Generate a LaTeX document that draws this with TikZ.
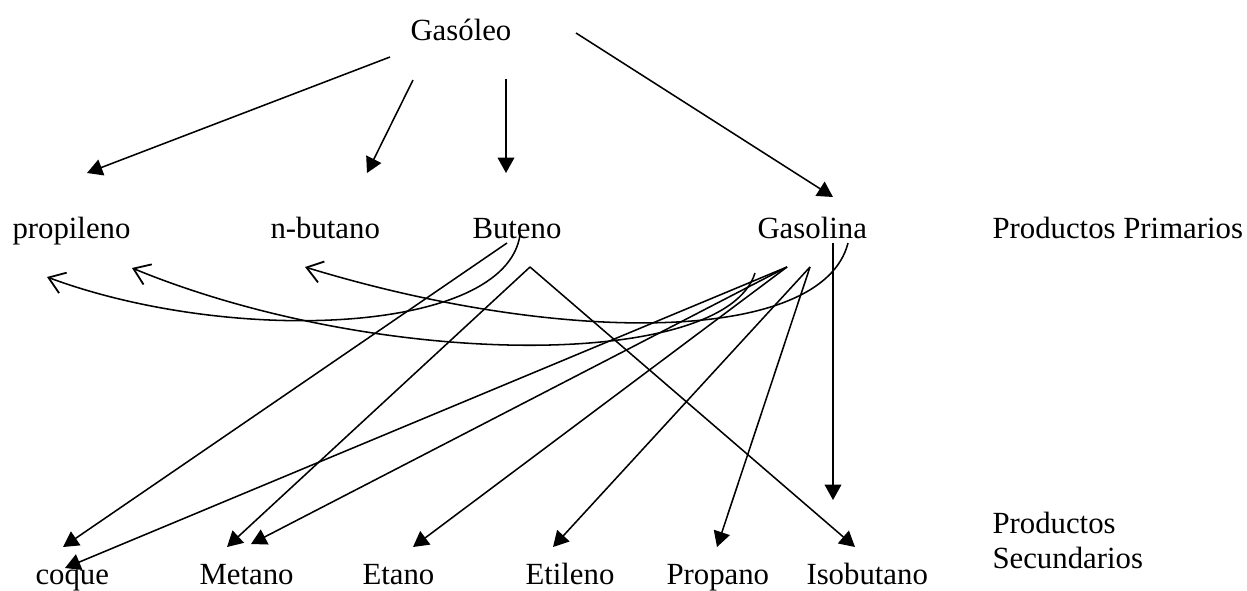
\documentclass[tikz,border=0pt]{standalone}
\usepackage{fontspec}
\setmainfont{Liberation Serif}
\usepackage{tikz}
\usetikzlibrary{arrows.meta}
\tikzset{
  lbl/.style={anchor=base west,inner sep=0pt,font=\fontsize{12}{13.6}\selectfont},
  fl/.style={-{Triangle[length=6pt,width=6.5pt]},line width=0.6pt},
  cv/.style={-{Straight Barb[length=6pt,width=8.5pt,line width=0.7pt]},line width=0.6pt},
}

\begin{document}
\begin{tikzpicture}[x=0.0137cm, y=-0.0137cm]
\useasboundingbox (0,0) rectangle (1247,590);
% rows of labels
\node[lbl] (gasoleo) at (410,40) {Gasóleo};
\node[lbl] (propileno) at (12,238) {propileno};
\node[lbl] (nbutano) at (270,238) {n-butano};
\node[lbl] (buteno) at (472,238) {Buteno};
\node[lbl] (gasolina) at (757,238) {Gasolina};
\node[lbl] (prim) at (992,238) {Productos Primarios};
\node[lbl] (coque) at (35,584) {coque};
\node[lbl] (metano) at (199,584) {Metano};
\node[lbl] (etano) at (362,584) {Etano};
\node[lbl] (etileno) at (525,584) {Etileno};
\node[lbl] (propano) at (666,584) {Propano};
\node[lbl] (isobutano) at (806,584) {Isobutano};
\node[lbl, align=left] (sec) at (992,568) {Productos\\Secundarios};

% line ends
\coordinate (g1) at (390,57);  \coordinate (g2) at (413,80);
\coordinate (g3) at (506,79);  \coordinate (g4) at (576,33);
\coordinate (tprop) at (87,173); \coordinate (tnbut) at (367,173);
\coordinate (tbut) at (506,173); \coordinate (tgsl) at (833,197);
\coordinate (b1) at (507,243); \coordinate (bpk) at (530,267);
\coordinate (bcv) at (520,235);
\coordinate (ha) at (787,267); \coordinate (hb) at (810,267);
\coordinate (hv) at (833,243);
\coordinate (hc1) at (755,273); \coordinate (hc2) at (848,243);
\coordinate (coq1) at (63,547); \coordinate (coq2) at (65,568);
\coordinate (met1) at (227,547); \coordinate (met2) at (251,544);
\coordinate (eta) at (413,547); \coordinate (etil) at (553,547);
\coordinate (prop) at (717,547); \coordinate (iso) at (855,547);
\coordinate (isov) at (833,500);
\coordinate (cp1) at (47,277); \coordinate (cp2) at (132,268);
\coordinate (cn) at (305,267);

% Gasoleo to primary products
\draw[fl] (g1) -- (tprop);
\draw[fl] (g2) -- (tnbut);
\draw[fl] (g3) -- (tbut);
\draw[fl] (g4) -- (tgsl);

% Buteno
\draw[fl] (b1) -- (coq1);
\draw[fl] (bpk) -- (met1);
\draw[fl] (bpk) -- (iso);
\draw[cv] (bcv) .. controls (505,335) and (230,345) .. (cp1);

% Gasolina
\draw[fl] (ha) -- (coq2);
\draw[fl] (ha) -- (met2);
\draw[fl] (ha) -- (eta);
\draw[fl] (hb) -- (etil);
\draw[fl] (hb) -- (prop);
\draw[fl] (hv) -- (isov);
\draw[cv] (hc1) .. controls (725,370) and (380,370) .. (cp2);
\draw[cv] (hc2) .. controls (822,345) and (560,345) .. (cn);
\end{tikzpicture}
\end{document}
